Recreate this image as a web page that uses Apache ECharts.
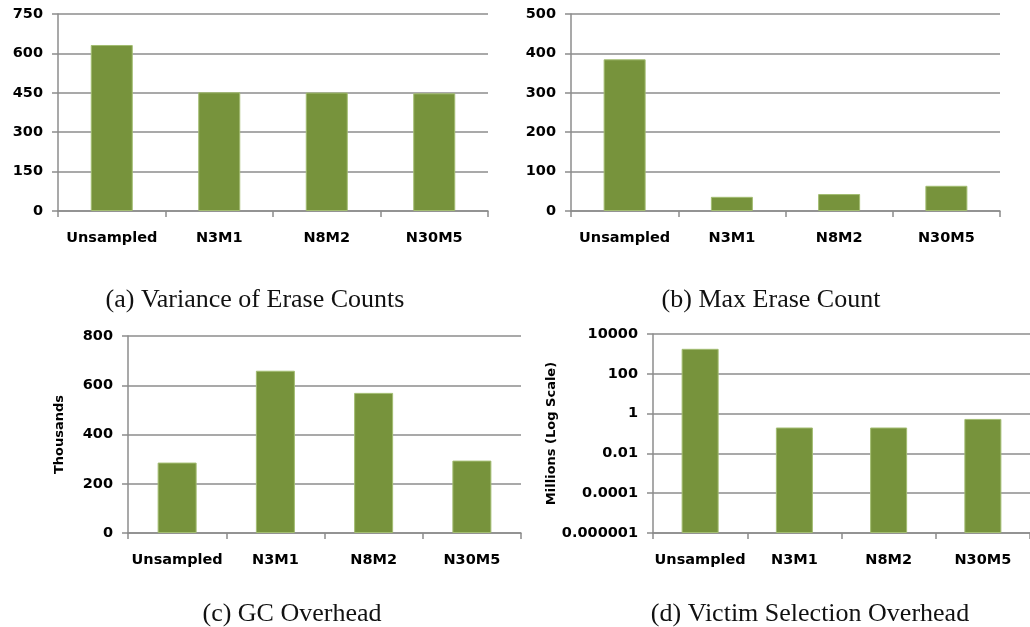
<!DOCTYPE html>
<html>
<head>
<meta charset="UTF-8" />
<script src="https://cdn.jsdelivr.net/npm/echarts@6/dist/echarts.min.js"></script>
<style>
  html, body { margin: 0; padding: 0; background: #fff; }
  #chart { width: 1030px; height: 627px; }
</style>
</head>
<body>
<div id="chart"></div>
<script>
// categories shared by all four panels
const categories = ['Unsampled', 'N3M1', 'N8M2', 'N30M5'];

// (a) variance of erase counts
const varianceValues = [632, 452, 451, 448];
// (b) max erase count
const maxEraseValues = [385, 36, 43, 64];
// (c) GC overhead, thousands
const gcValues = [286, 659, 569, 294];
// (d) victim selection overhead, millions, log scale
const victimValues = [1800, 0.2, 0.2, 0.54];
const logTickLabels = ['0.000001', '0.0001', '0.01', '1', '100', '10000'];

const captions = [
  '(a) Variance of Erase Counts',
  '(b) Max Erase Count',
  '(c) GC Overhead',
  '(d) Victim Selection Overhead',
];

const GREEN = '#77933c';
const GRID_GRAY = '#8c8c8c';
const LABEL_FONT = { fontFamily: 'DejaVu Sans', fontWeight: 'bold', fontSize: 14.5, color: '#000' };

const grids = [
  { left: 58, top: 14, width: 430, height: 197 },
  { left: 571, top: 14, width: 429, height: 197 },
  { left: 128, top: 336, width: 393, height: 197 },
  { left: 653, top: 334, width: 385, height: 199 },
];

function xAxisFor(i) {
  return {
    gridIndex: i,
    type: 'category',
    data: categories,
    axisLine: { lineStyle: { color: GRID_GRAY, width: 1.5 } },
    axisTick: { show: true, interval: 0, length: 6, lineStyle: { color: GRID_GRAY, width: 1.5 } },
    axisLabel: Object.assign({ interval: 0, margin: 20 }, LABEL_FONT),
  };
}

function yAxisFor(i, extra) {
  return Object.assign({
    gridIndex: i,
    type: 'value',
    axisLine: { show: true, lineStyle: { color: GRID_GRAY, width: 1.5 } },
    axisTick: { show: true, length: 6, lineStyle: { color: GRID_GRAY, width: 1.5 } },
    splitLine: { show: true, lineStyle: { color: GRID_GRAY, width: 1.5 } },
    axisLabel: Object.assign({ margin: 15 }, LABEL_FONT),
  }, extra);
}

function barSeries(i, data, width) {
  return {
    type: 'bar',
    xAxisIndex: i,
    yAxisIndex: i,
    data: data,
    barWidth: width,
    itemStyle: { color: GREEN, borderColor: '#a3bd72', borderWidth: 1 },
    silent: true,
  };
}

const titlePos = [
  { left: 250, top: 282 },
  { left: 766, top: 282 },
  { left: 287, top: 596 },
  { left: 805, top: 596 },
];

const option = {
  animation: false,
  title: captions.map((t, i) => ({
    text: t,
    left: titlePos[i].left,
    top: titlePos[i].top,
    textAlign: 'center',
    textStyle: { fontFamily: 'Liberation Serif', fontWeight: 'normal', fontSize: 26, color: '#111' },
  })),
  grid: grids,
  xAxis: [0, 1, 2, 3].map(xAxisFor),
  yAxis: [
    yAxisFor(0, { min: 0, max: 750, interval: 150 }),
    yAxisFor(1, { min: 0, max: 500, interval: 100 }),
    yAxisFor(2, {
      min: 0, max: 800, interval: 200,
      name: 'Thousands', nameLocation: 'middle', nameGap: 62, nameRotate: 90,
      nameTextStyle: { fontFamily: 'DejaVu Sans', fontWeight: 'bold', fontSize: 13, color: '#000' },
    }),
    yAxisFor(3, {
      type: 'log', logBase: 100, min: 0.000001, max: 10000, startValue: 0.000001,
      name: 'Millions (Log Scale)', nameLocation: 'middle', nameGap: 84, nameRotate: 90,
      nameTextStyle: { fontFamily: 'DejaVu Sans', fontWeight: 'bold', fontSize: 13, color: '#000' },
      axisLabel: Object.assign({ margin: 15, formatter: (v, idx) => logTickLabels[idx] }, LABEL_FONT),
    }),
  ],
  series: [
    barSeries(0, varianceValues, 42),
    barSeries(1, maxEraseValues, 42),
    barSeries(2, gcValues, 39),
    barSeries(3, victimValues, 37),
  ],
};

const chart = echarts.init(document.getElementById('chart'), null, { renderer: 'canvas' });
chart.setOption(option);
</script>
</body>
</html>
